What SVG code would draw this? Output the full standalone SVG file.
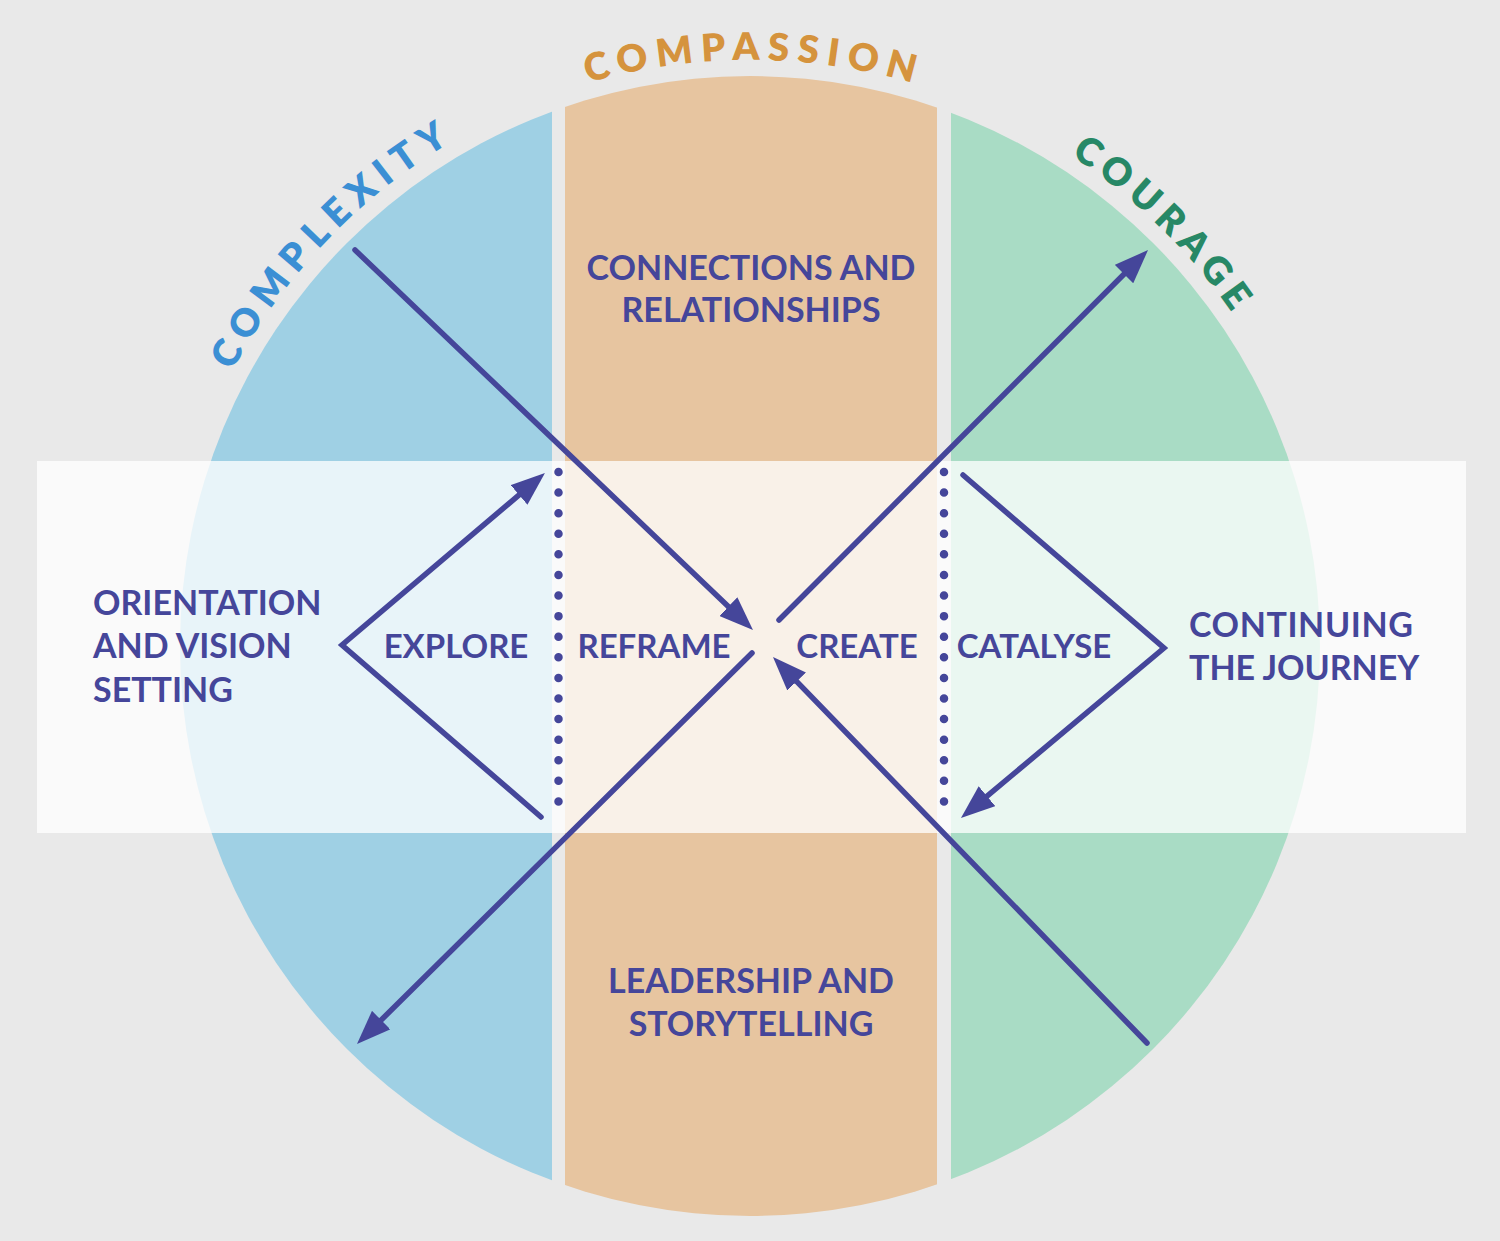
<svg xmlns="http://www.w3.org/2000/svg" width="1500" height="1241" viewBox="0 0 1500 1241">
  <style>
    .lbl { font-family: Lato, "Open Sans", "Liberation Sans", sans-serif; font-weight: 700; fill: #45469a; }
    .big { font-size: 34px; }
    .mid { font-size: 33px; }
    .wide { letter-spacing: 0.6px; }
    .arc { font-family: Lato, "Open Sans", "Liberation Sans", sans-serif; font-weight: 800; font-size: 38px; }
    .conn { fill: none; stroke: #45469a; stroke-width: 5.5; stroke-linecap: round; stroke-linejoin: miter; }
    .dots { fill: none; stroke: #45469a; stroke-width: 8.5; stroke-linecap: round; stroke-dasharray: 0 20.59; }
  </style>
  <defs>
    <clipPath id="circ">
      <circle cx="750" cy="646" r="570"/>
    </clipPath>
    <marker id="arrow" markerUnits="userSpaceOnUse" viewBox="0 0 34 26" markerWidth="34" markerHeight="26" refX="14" refY="13" orient="auto">
      <path d="M0,0 L34,13 L0,26 Z" fill="#45469a"/>
    </marker>
    <path id="arcpath" d="M750,1232 A586,586 0 1 1 750,60 A586,586 0 1 1 750,1232"/>
  </defs>

  <rect x="0" y="0" width="1500" height="1241" fill="#e9e9e9"/>

  <g id="columns" clip-path="url(#circ)">
    <rect id="col-complexity" x="150" y="60" width="402" height="1200" fill="#9fd0e4"/>
    <rect id="col-compassion" x="565" y="60" width="372" height="1200" fill="#e7c5a0"/>
    <rect id="col-courage" x="951" y="60" width="400" height="1200" fill="#a9dcc5"/>
  </g>

  <rect id="band" x="37" y="461" width="1429" height="372" fill="#ffffff" fill-opacity="0.76"/>

  <g id="arc-titles">
    <text class="arc" fill="#3b8fd4"><textPath href="#arcpath" startOffset="1366" text-anchor="middle" textLength="319" lengthAdjust="spacing">COMPLEXITY</textPath></text>
    <text class="arc" fill="#d5933d"><textPath href="#arcpath" startOffset="1841" text-anchor="middle" textLength="329" lengthAdjust="spacing">COMPASSION</textPath></text>
    <text class="arc" fill="#278866"><textPath href="#arcpath" startOffset="2293" text-anchor="middle" textLength="226" lengthAdjust="spacing">COURAGE</textPath></text>
  </g>

  <g id="connectors">
    <line class="dots" x1="558.5" y1="472" x2="558.5" y2="822"/>
    <line class="dots" x1="944" y1="472" x2="944" y2="822"/>
    <line class="conn" x1="355" y1="250" x2="738.5" y2="616.2" marker-end="url(#arrow)"/>
    <line class="conn" x1="779" y1="620" x2="1133.9" y2="264.2" marker-end="url(#arrow)"/>
    <line class="conn" x1="752" y1="653" x2="371.2" y2="1029.9" marker-end="url(#arrow)"/>
    <line class="conn" x1="1147" y1="1043" x2="786.9" y2="671.4" marker-end="url(#arrow)"/>
    <polyline class="conn" points="541,817 342,645 529.7,485.9" marker-end="url(#arrow)"/>
    <polyline class="conn" points="963,475 1164,648 976.3,805.2" marker-end="url(#arrow)"/>
  </g>

  <g id="node-connections">
    <text class="lbl big" x="751" y="280" text-anchor="middle">CONNECTIONS AND</text>
    <text class="lbl big" x="751" y="322" text-anchor="middle">RELATIONSHIPS</text>
  </g>
  <g id="node-leadership">
    <text class="lbl big" x="751" y="993" text-anchor="middle">LEADERSHIP AND</text>
    <text class="lbl big" x="751" y="1036" text-anchor="middle">STORYTELLING</text>
  </g>
  <g id="node-orientation">
    <text class="lbl big" x="93" y="615">ORIENTATION</text>
    <text class="lbl big" x="93" y="658">AND VISION</text>
    <text class="lbl big" x="93" y="702">SETTING</text>
  </g>
  <g id="node-continuing">
    <text class="lbl big wide" x="1189" y="637">CONTINUING</text>
    <text class="lbl big" x="1189" y="680">THE JOURNEY</text>
  </g>
  <g id="node-explore"><text class="lbl mid" x="456" y="658" text-anchor="middle">EXPLORE</text></g>
  <g id="node-reframe"><text class="lbl mid" x="654" y="658" text-anchor="middle">REFRAME</text></g>
  <g id="node-create"><text class="lbl mid" x="857" y="658" text-anchor="middle">CREATE</text></g>
  <g id="node-catalyse"><text class="lbl mid" x="1034" y="658" text-anchor="middle">CATALYSE</text></g>
</svg>
